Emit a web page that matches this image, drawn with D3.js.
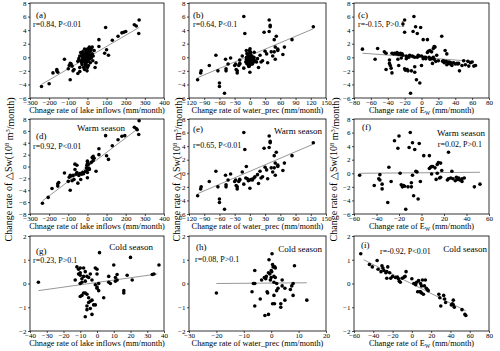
<!DOCTYPE html>
<html>
<head>
<meta charset="utf-8">
<script src="https://cdn.jsdelivr.net/npm/d3@7"></script>
<style>
body { margin: 0; background: #fff; }
svg { display: block; }
text { font-family: "Liberation Serif", "Times New Roman", serif; fill: #000; }
</style>
</head>
<body>
<script>
// tick labels
const xTicksLake = [-300, -200, -100, 0, 100, 200, 300, 400]
const xTicksPrec = [-120, -90, -60, -30, 0, 30, 60, 90, 120, 150]
const xTicksEwAll = [-80, -60, -40, -20, 0, 20, 40, 60, 80]
const xTicksEwWarm = [-60, -40, -20, 0, 20, 40, 60]
const xTicksLakeCold = [-40, -30, -20, -10, 0, 10, 20, 30, 40]
const xTicksPrecCold = [-30, -20, -10, 0, 10, 20]
const xTicksEwCold = [-60, -40, -20, 0, 20, 40, 60, 80]
const yTicksAll = [-6, -4, -2, 0, 2, 4, 6, 8]
const yTicksWarmLake = [-8, -6, -4, -2, 0, 2, 4, 6, 8]
const yTicksCold = [-2, -1, 0, 1, 2]

// (a) annual, lake inflows
const panelA = [[-240,-4.3],[-200,-3.9],[-180,-2.3],[-160,-2.0],[-160,-1.8],[-155,-2.2],[-120,-0.3],[-100,-1.7],[-95,-1.2],[-90,-3.3],[-85,-1.0],[-80,-1.3],[-75,-2.0],[-70,-1.8],[-50,-2.4],[-40,-1.5],[-40,-2.1],[-90,-0.9],
  [-45,-0.2],[-40,0.2],[-35,-0.5],[-30,-0.8],[-30,0.3],[-25,0.0],[-25,-0.3],[-20,0.5],[-20,-0.6],[-18,0.1],[-15,1.2],[-15,-0.2],[-12,-1.0],[-10,0.4],[-10,-0.4],[-8,0.8],[-5,0.0],[-5,-0.7],[-5,1.0],[-3,0.3],[0,0.6],[0,-0.2],[0,-1.5],[2,0.9],[3,0.2],[5,-0.5],[5,1.2],[8,0.0],[8,0.5],[10,-0.3],[12,0.8],[15,0.3],[15,-0.8],[18,1.0],[20,1.3],[20,-0.1],[25,1.5],[25,0.5],[-28,-1.1],[-2,-2.0],[-15,-1.8],[5,-1.2],[-8,-0.9],[28,-0.5],[30,0.2],[35,1.0],[40,-1.5],[45,-0.8],[-50,-0.6],[-20,-1.5],[-35,0.7],[10,1.5],[0,1.2],[-10,-1.3],[5,0.6],[-25,0.8],[15,0.0],[-5,-0.3],[2,-0.6],
  [60,2.6],[60,1.6],[90,0.6],[100,1.1],[110,0.3],[95,4.4],[130,2.5],[160,3.1],[180,3.6],[190,3.7],[200,3.8],[245,4.8],[255,4.6],[270,5.5],[268,3.5]]

// (c) annual, Ew
const panelC = [[-70,1.2],[-55,-0.3],[-52,1.3],[-44,0.8],[-42,0.6],[-42,-1.8],[-38,-0.4],[-38,-0.9],[-37,-1.2],[-36,-1.6],[-35,-2.3],[-35,0.6],[-33,0.5],[-32,0.6],[-30,0.5],[-29,0.7],[-28,0.5],[-27,0.4],[-27,-1.2],[-25,0.6],[-24,0.4],[-23,0.5],[-22,0.3],[-22,4.9],[-20,3.7],[-20,5.5],[-20,-1.7],[-19,-1.9],[-18,0.2],[-17,-1.8],[-16,-2.0],[-15,0.0],[-14,0.3],[-13,-5.3],[-12,-2.0],[-11,0.2],[-10,3.8],[-9,6.0],[-8,0.0],[-8,-1.4],[-8,-2.2],[-7,4.5],[-6,-3.3],[-5,3.5],[-4,0.3],[-3,0.2],[-2,-3.8],[-1,4.4],[0,-1.2],[0,0.2],[2,2.6],[3,0.0],[5,-0.2],[7,2.6],[7,0.7],[8,0.9],[9,0.0],[10,1.0],[10,-0.3],[12,0.8],[12,-0.2],[13,-0.9],[14,0.0],[14,1.3],[15,1.6],[15,-0.3],[16,1.5],[17,-0.6],[18,0.3],[20,-0.5],[24,3.1],[25,-0.6],[26,-0.5],[27,-0.8],[28,1.0],[29,-0.6],[30,0.5],[30,-1.1],[31,-0.7],[32,-0.9],[33,-0.7],[34,-1.0],[35,-0.8],[36,-1.2],[38,-0.8],[40,-1.0],[42,-0.9],[43,-1.0],[44,-0.9],[45,-2.0],[48,-1.2],[50,-0.5],[52,-1.1],[55,-0.6],[56,-1.3],[58,-0.8],[60,-0.7],[62,-1.3],[64,-1.2],[-28,-0.3],[-10,0.1],[-5,0.0],[5,0.0],[2,-0.2],[-24,-0.1],[-18,-0.2]]

// warm season
const warmLake = [[-235,-6.2],[-205,-5.2],[-185,-3.7],[-155,-3.3],[-155,-2.9],[-150,-2.7],[-120,-1.1],[-100,-2.5],[-95,-1.8],[-90,-4.0],[-90,-1.5],[-85,-1.6],[-80,-2.4],[-75,-1.5],[-70,-2.2],[-65,-0.5],[-65,0.4],[-60,-1.3],[-55,-1.0],[-55,0.2],[-50,-2.8],[-45,-1.5],[-40,-1.2],[-35,-2.2],[-30,-1.3],[-25,-1.0],[-20,-1.2],[-10,-0.8],[-5,-0.2],[-3,0.2],[0,0.5],[0,0.9],[0,-0.5],[0,-1.0],[0,-1.9],[5,-0.3],[5,0.4],[8,-0.3],[10,-0.5],[20,0.7],[25,1.5],[30,1.7],[30,1.0],[35,1.4],[45,-0.8],[60,3.0],[60,2.0],[100,1.8],[110,1.2],[95,5.2],[130,3.5],[160,4.5],[180,5.1],[195,5.2],[245,6.6],[255,6.4],[270,7.7],[268,5.4],[260,6.2]]
const warmPrec = [[-103,-3.3],[-97,-2.3],[-96,-2.0],[-80,-1.2],[-67,0.3],[-63,-2.0],[-60,-4.3],[-60,-3.8],[-50,-5.3],[-48,-0.3],[-47,-1.7],[-47,-2.0],[-43,-1.0],[-38,-0.1],[-30,-1.2],[-28,-1.0],[-27,-1.8],[-25,-2.0],[-25,-2.3],[-22,-1.2],[-20,-1.0],[-20,-0.9],[-15,0.2],[-12,6.0],[-12,-1.6],[-10,3.5],[-8,-0.7],[-7,1.0],[-5,-0.8],[-3,-1.1],[0,-2.2],[0,-1.0],[3,-0.9],[5,-1.0],[8,-0.7],[10,-0.5],[15,-0.2],[17,-1.5],[20,0.3],[22,-0.7],[25,-0.5],[28,3.7],[30,0.9],[33,0.5],[35,-0.8],[38,5.5],[38,3.8],[40,4.7],[40,4.5],[42,0.8],[45,0.2],[48,2.6],[48,0.8],[50,1.5],[50,-0.3],[52,3.1],[55,1.2],[55,1.0],[65,0.4],[68,1.5],[83,2.6],[125,4.5]]
const warmEw = [[-55,-0.3],[-42,-1.8],[-38,-0.8],[-37,-1.0],[-37,-0.2],[-35,-1.6],[-35,-2.3],[-30,-4.3],[-29,0.9],[-27,-1.2],[-24,4.8],[-21,3.7],[-20,5.5],[-19,0.0],[-18,-1.7],[-17,-2.0],[-16,-1.8],[-15,-1.9],[-14,-5.3],[-12,-2.0],[-11,3.8],[-10,6.0],[-9,-1.4],[-9,-2.0],[-8,-0.3],[-8,4.5],[-7,-3.3],[-6,3.5],[-5,0.3],[-4,0.2],[-3,-3.8],[-2,4.4],[-1,-1.2],[2,2.6],[7,2.6],[7,0.7],[8,0.9],[9,-0.1],[9,1.0],[10,1.0],[12,0.8],[13,-0.9],[14,0.0],[14,1.3],[15,1.6],[16,-0.7],[17,1.5],[17,-0.6],[18,0.4],[23,-1.0],[24,3.1],[24,-0.8],[26,-0.7],[27,0.3],[28,-0.8],[30,-1.1],[31,-0.6],[32,-0.9],[33,-0.7],[34,-1.0],[36,-0.8],[36,-1.2],[38,-0.7],[47,-2.0],[52,-1.6]]

// cold season
const coldLake = [[-35,0.05],[-13,0.15],[-12,0.7],[-11,0.6],[-11,0.4],[-10,0.65],[-10,0.45],[-10,0.35],[-10,0.0],[-9,0.2],[-9,0.05],[-8,0.65],[-8,0.3],[-7,0.5],[-7,0.1],[-6,0.3],[-5,0.25],[-4,0.4],[-3,0.15],[-1,0.65],[0,0.6],[0,0.4],
  [-10,-0.55],[-9,-0.5],[-8,-0.4],[-7,-0.4],[-6,-0.45],[-6,-0.95],[-6,-1.1],[-7,-1.4],[-5,-0.6],[-5,-0.8],[-4,-1.05],[-4,-0.75],[-3,-0.7],[-3,-1.3],[-2,-0.9],[-1,-0.9],[-1,-0.05],[0,-0.15],[0,-0.2],[1,-0.3],[1,0.0],[1.5,1.3],[4,-0.6],[7,0.3],[7,0.05],[8,0.0],[10,0.78],[11,0.1],[11,0.25],[12,0.38],[12,0.15],[16,-0.4],[16,-0.3],[18,0.35],[20,1.1],[21,0.15],[33,0.38],[34,0.4],[37,0.78]]
const coldPrec = [[-20,-0.4],[-7,-0.35],[-6.5,0.0],[-6,0.0],[-6,0.55],[-6,-0.95],[-4,-0.65],[-3.5,0.15],[-2.5,0.25],[-2.3,-1.35],[-2,0.2],[-1.8,0.3],[-1.5,-0.35],[-1.3,-0.4],[-1,-1.3],[-1,0.45],[-0.8,1.0],[-0.5,0.4],[-0.3,0.15],[0,0.25],[0,0.55],[0.2,0.5],[0.3,1.25],[0.5,-0.85],[0.5,0.8],[0.7,0.7],[1,0.05],[1,0.3],[1,-0.5],[1.2,-0.85],[1.3,0.7],[1.5,0.25],[1.5,0.65],[2,-0.3],[2,0.0],[2.5,-0.2],[3.5,-0.85],[3.5,-1.0],[4,0.15],[4,-0.1],[5,-0.2],[5,-0.7],[7,-0.25],[7.5,-0.1],[8,0.0],[8,-0.5],[8.5,0.75],[13,-0.7]]
const coldEw = [[-53,1.25],[-44,0.8],[-41,0.7],[-36,0.97],[-35,0.6],[-32,0.5],[-31,0.75],[-30,0.65],[-29,0.55],[-27,0.45],[-26,0.5],[-26,0.22],[-25,0.7],[-23,0.45],[-22,0.22],[-20,0.3],[-17,0.25],[-15,0.27],[-14,0.2],[-13,0.1],[-12,0.05],[-10,0.22],[-8,0.27],[-7,0.3],[-6,0.5],[0,0.2],[2,0.0],[3,0.0],[4,-0.05],[5,0.05],[6,-0.35],[7,0.12],[8,-0.35],[9,-0.35],[9,0.0],[10,-0.1],[10,-0.4],[11,0.15],[12,-0.45],[13,-0.1],[14,0.15],[15,-0.2],[16,-0.25],[17,-0.3],[28,-0.45],[29,-0.6],[30,-0.95],[33,-0.5],[34,-0.65],[35,-0.8],[41,-0.9],[42,-0.85],[43,-0.9],[43,-0.7],[44,-1.0],[52,-1.1],[55,-1.3],[56,-1.35]]

// annual prec = warm + cold points
const panelB = warmPrec.concat(coldPrec)

// fitted lines, [x1, y1, x2, y2]
const fitA = [-240, -4.0, 270, 4.4]
const fitB = [-103, -3.0, 125, 4.2]
const fitC = [-70, 0.6, 62, -0.6]
const fitD = [-235, -5.8, 265, 6.4]
const fitE = [-103, -3.0, 125, 4.3]
const fitF = [-55, 0.0, 52, 0.15]
const fitG = [-35, -0.3, 36, 0.4]
const fitH = [-20, 0.0, 13, 0.03]
const fitI = [-50, 1.0, 56, -1.15]

const titleLake = 'Chnage rate of lake inflows (mm/month)'
const titlePrec = 'Change rate of water_prec (mm/month)'

const colLeft = [30, 189, 354]
const colWidth = [134, 137, 135]
const rowTop = [3, 119, 236]
const rowHeight = 95
const yLabelX = [8, 176, 333]

// tx/ty: panel tag, rx/ry: r text, ex/sy: season label (end offset from right)
const panels = [
  {pts: panelA, xt: xTicksLake, yt: yTicksAll, fit: fitA, title: titleLake, tag: '(a)', r: 'r=0.84, P<0.01', rx: 3, ry: 21, tx: 6, ty: 12},
  {pts: panelB, xt: xTicksPrec, yt: yTicksAll, fit: fitB, title: titlePrec, tag: '(b)', r: 'r=0.64, P<0.1', rx: 4, ry: 21, tx: 4, ty: 12},
  {pts: panelC, xt: xTicksEwAll, yt: yTicksAll, fit: fitC, title: 'ew', tag: '(c)', r: 'r=-0.15, P>0.1', rx: 4, ry: 21, tx: 4, ty: 12},
  {pts: warmLake, xt: xTicksLake, yt: yTicksWarmLake, fit: fitD, title: titleLake, tag: '(d)', r: 'r=0.92, P<0.01', rx: 3, ry: 27, tx: 6, ty: 17, season: 'Warm season', ex: 39, sy: 9},
  {pts: warmPrec, xt: xTicksPrec, yt: yTicksAll, fit: fitE, title: titlePrec, tag: '(e)', r: 'r=0.65, P<0.01', rx: 4, ry: 26, tx: 4, ty: 10, season: 'Warm season', ex: 4, sy: 12},
  {pts: warmEw, xt: xTicksEwWarm, yt: yTicksAll, fit: fitF, title: 'ew', tag: '(f)', r: 'r=0.02, P>0.1', rend: 7, ry: 25, tx: 8, ty: 8, season: 'Warm season', ex: 4, sy: 14},
  {pts: coldLake, xt: xTicksLakeCold, yt: yTicksCold, fit: fitG, title: titleLake, tag: '(g)', r: 'r=0.23, P>0.1', rx: 3, ry: 24, tx: 6, ty: 15, season: 'Cold season', ex: 11, sy: 11},
  {pts: coldPrec, xt: xTicksPrecCold, yt: yTicksCold, fit: fitH, title: titlePrec, tag: '(h)', r: 'r=0.08, P>0.1', rx: 6, ry: 23, tx: 7, ty: 11, season: 'Cold season', ex: 4, sy: 13},
  {pts: coldEw, xt: xTicksEwCold, yt: yTicksCold, fit: fitI, title: 'ew', tag: '(i)', r: 'r=-0.92, P<0.01', rx: 26, ry: 15, tx: 7, ty: 9, season: 'Cold season', ex: 2, sy: 13}
]

const svg = d3.select('body').append('svg')
    .attr('width', 500)
    .attr('height', 351)

panels.forEach(function(p, i) {
    let col = i % 3, row = Math.floor(i / 3)
    let w = colWidth[col], h = rowHeight
    let g = svg.append('g').attr('transform', `translate(${colLeft[col]},${rowTop[row]})`)

    let x = d3.scaleLinear().domain([p.xt[0], p.xt[p.xt.length - 1]]).range([0, w])
    let y = d3.scaleLinear().domain([p.yt[0], p.yt[p.yt.length - 1]]).range([h, 0])

    // AXES
    let xAxis = g.append('g').attr('transform', `translate(0,${h})`)
        .call(d3.axisBottom(x).tickValues(p.xt).tickSize(2).tickPadding(0.5).tickFormat(d3.format('d')))
    let yAxis = g.append('g')
        .call(d3.axisLeft(y).tickValues(p.yt).tickSize(2).tickPadding(1.5).tickFormat(d3.format('d')))
    ;[xAxis, yAxis].forEach(a => {
        a.select('.domain').remove()
        a.selectAll('line').attr('stroke', '#000').attr('stroke-width', 0.7)
        a.selectAll('text').style('font-family', '"Liberation Serif", serif').style('font-size', '7px')
    })
    xAxis.selectAll('text').attr('dy', '0.6em')

    g.append('rect')
        .attr('width', w).attr('height', h)
        .attr('fill', 'none').attr('stroke', '#000').attr('stroke-width', 0.8)

    // FIT LINE
    g.append('line')
        .attr('x1', x(p.fit[0])).attr('y1', y(p.fit[1]))
        .attr('x2', x(p.fit[2])).attr('y2', y(p.fit[3]))
        .attr('stroke', '#8c8c8c').attr('stroke-width', 0.9)

    // POINTS
    g.selectAll('circle').data(p.pts).enter().append('circle')
        .attr('cx', d => x(d[0]))
        .attr('cy', d => y(d[1]))
        .attr('r', 1.8)
        .attr('fill', '#000')

    // LABELS
    g.append('text').attr('x', p.tx).attr('y', p.ty).attr('dy', '0.35em')
        .style('font-size', '9px').text(p.tag)
    let rt = g.append('text').attr('y', p.ry).attr('dy', '0.35em')
        .style('font-size', '8px').text(p.r)
    if (p.rend !== undefined) rt.attr('x', w - p.rend).attr('text-anchor', 'end')
    else rt.attr('x', p.rx)
    if (p.season) {
        g.append('text').attr('x', w - p.ex).attr('y', p.sy).attr('dy', '0.35em')
            .attr('text-anchor', 'end')
            .style('font-size', '9px').text(p.season)
    }

    let t = g.append('text').attr('x', w / 2).attr('y', h + 12.5).attr('dy', '0.35em')
        .attr('text-anchor', 'middle').style('font-size', '8.3px')
    if (p.title === 'ew') {
        t.append('tspan').text('Change rate of E')
        t.append('tspan').attr('dy', '0.3em').style('font-size', '5.5px').text('W')
        t.append('tspan').attr('dy', '-0.3em').text(' (mm/month)')
    } else {
        t.text(p.title)
    }
})

// Y LABELS (one per column, centred on middle row)
yLabelX.forEach(function(lx) {
    let cy = rowTop[1] + rowHeight / 2 + 3
    let t = svg.append('text')
        .attr('transform', `translate(${lx},${cy}) rotate(-90)`)
        .attr('text-anchor', 'middle').attr('dy', '0.35em')
        .style('font-size', '10px')
    t.append('tspan').text('Change rate of \u25B3Sw(10')
    t.append('tspan').attr('dy', '-0.4em').style('font-size', '6.5px').text('8')
    t.append('tspan').attr('dy', '0.4em').text(' m')
    t.append('tspan').attr('dy', '-0.4em').style('font-size', '6.5px').text('3')
    t.append('tspan').attr('dy', '0.4em').text('/month)')
})
</script>
</body>
</html>
